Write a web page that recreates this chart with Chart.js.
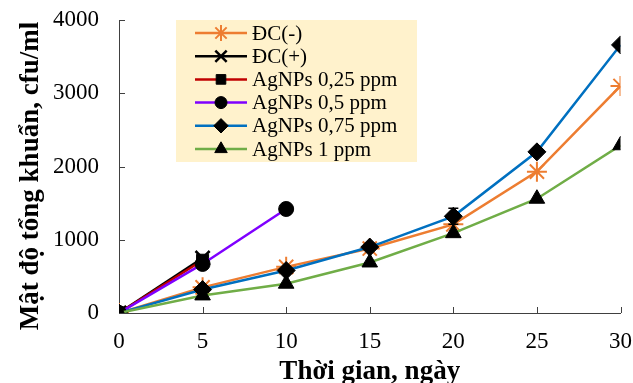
<!DOCTYPE html>
<html>
<head>
<meta charset="utf-8">
<script src="https://cdn.jsdelivr.net/npm/chart.js@4.4.0/dist/chart.umd.min.js"></script>
<style>
  html, body { margin: 0; padding: 0; background: #fff; }
</style>
</head>
<body>
<canvas id="chart" width="633" height="383"></canvas>
<script>
// days of storage
const days = [0, 5, 10, 15, 20, 25, 30];
const seriesNames = ["ĐC(-)", "ĐC(+)", "AgNPs 0,25 ppm", "AgNPs 0,5 ppm", "AgNPs 0,75 ppm", "AgNPs 1 ppm"];
// total bacteria, cfu/ml
const dcNeg = [0, 350, 630, 880, 1210, 1930, 3100];
const dcPos = [0, 750, null, null, null, null, null];
const ag025 = [0, 720, null, null, null, null, null];
const ag05 = [0, 670, 1420, null, null, null, null];
const ag075 = [0, 320, 580, 900, 1320, 2200, 3660];
const ag1 = [0, 240, 400, 690, 1090, 1560, 2290];
// error bar for 0,75 ppm
const ag075Err = [0, 0, 0, 0, 110, 0, 0];
const yTicks = [0, 1000, 2000, 3000, 4000];
const yTitle = "Mật độ tổng khuẩn, cfu/ml";

const colors = ["#ED7D31", "#000000", "#C00000", "#7F00FF", "#0070C0", "#70AD47"];
const markers = ["star", "crossRot", "rect", "circle", "rectRot", "triangle"];
const markerSize = [10, 10, 8.5, 7.5, 9, 9];
const allSeries = [dcNeg, dcPos, ag025, ag05, ag075, ag1];

const toPoints = (vals) =>
  days.map((d, i) => ({ x: d, y: vals[i] })).filter((p) => p.y !== null);

const datasets = allSeries.map((vals, i) => ({
  label: seriesNames[i],
  data: toPoints(vals),
  borderColor: colors[i],
  borderWidth: 2.5,
  pointStyle: markers[i],
  pointRadius: markerSize[i],
  pointBorderWidth: i === 0 ? 2 : (i === 1 ? 2.5 : 1),
  pointBackgroundColor: "#000",
  pointBorderColor: i === 0 ? colors[0] : "#000",
  order: 5 - i,
  tension: 0,
}));

const serif = "'Liberation Serif', 'Times New Roman', serif";

// small tick marks drawn inside the plot
const innerTicks = {
  id: "innerTicks",
  beforeDatasetsDraw(chart) {
    const { ctx, scales, chartArea } = chart;
    ctx.save();
    ctx.strokeStyle = "#404040";
    ctx.lineWidth = 1;
    ctx.beginPath();
    scales.x.ticks.forEach((t) => {
      const px = Math.round(scales.x.getPixelForValue(t.value)) + 0.5;
      ctx.moveTo(px, chartArea.bottom);
      ctx.lineTo(px, chartArea.bottom - 6);
    });
    scales.y.ticks.forEach((t) => {
      const py = Math.round(scales.y.getPixelForValue(t.value)) + 0.5;
      ctx.moveTo(chartArea.left, py);
      ctx.lineTo(chartArea.left + 6, py);
    });
    ctx.stroke();
    ctx.restore();
  },
};

const errorBars = {
  id: "errorBars",
  afterDatasetsDraw(chart) {
    const { ctx, scales } = chart;
    ctx.save();
    ctx.strokeStyle = "#000";
    ctx.lineWidth = 1.5;
    days.forEach((d, i) => {
      const e = ag075Err[i];
      if (!e) return;
      const px = scales.x.getPixelForValue(d);
      const top = scales.y.getPixelForValue(ag075[i] + e);
      const bot = scales.y.getPixelForValue(ag075[i] - e);
      ctx.beginPath();
      ctx.moveTo(px, top); ctx.lineTo(px, bot);
      ctx.moveTo(px - 5, top); ctx.lineTo(px + 5, top);
      ctx.moveTo(px - 5, bot); ctx.lineTo(px + 5, bot);
      ctx.stroke();
    });
    ctx.restore();
  },
};

// y title sits a bit below the plot centre in the original
const sideTitle = {
  id: "sideTitle",
  afterDraw(chart) {
    const { ctx } = chart;
    ctx.save();
    ctx.translate(31, 176);
    ctx.rotate(-Math.PI / 2);
    ctx.fillStyle = "#000";
    ctx.font = "bold 27px " + serif;
    ctx.textAlign = "center";
    ctx.textBaseline = "middle";
    ctx.fillText(yTitle, 0, 0);
    ctx.restore();
  },
};

// legend box inside the plot, line + marker + text
const boxLegend = {
  id: "boxLegend",
  afterDraw(chart) {
    const { ctx } = chart;
    ctx.save();
    ctx.fillStyle = "#FFF2CC";
    ctx.fillRect(176, 20, 241, 142);
    chart.data.datasets.forEach((ds, i) => {
      const y = 33 + i * 23.2;
      ctx.strokeStyle = ds.borderColor;
      ctx.lineWidth = 2.5;
      ctx.beginPath();
      ctx.moveTo(195, y);
      ctx.lineTo(247, y);
      ctx.stroke();
      ctx.fillStyle = "#000";
      ctx.strokeStyle = ds.pointBorderColor;
      ctx.lineWidth = ds.pointBorderWidth;
      Chart.helpers.drawPoint(ctx, {
        pointStyle: ds.pointStyle,
        radius: ds.pointRadius * 0.8,
        borderWidth: ds.pointBorderWidth,
        rotation: 0,
      }, 221, y);
      ctx.fillStyle = "#000";
      ctx.font = "21px " + serif;
      ctx.textBaseline = "middle";
      ctx.textAlign = "left";
      ctx.fillText(ds.label, 252, y + 1);
    });
    ctx.restore();
  },
};

new Chart(document.getElementById("chart"), {
  type: "line",
  data: { datasets },
  options: {
    responsive: false,
    animation: false,
    devicePixelRatio: 1,
    layout: { padding: 0 },
    plugins: {
      legend: { display: false },
      tooltip: { enabled: false },
    },
    scales: {
      x: {
        type: "linear",
        min: 0,
        max: 30,
        grid: { display: true, drawOnChartArea: false, drawTicks: false },
        border: { color: "#404040", width: 1 },
        ticks: {
          stepSize: 5,
          padding: 15,
          color: "#000",
          font: { family: serif, size: 23 },
        },
        title: {
          display: true,
          text: "Thời gian, ngày",
          color: "#000",
          font: { family: serif, size: 27, weight: "bold" },
          padding: { top: 0, bottom: -5 },
        },
        afterFit(scale) {
          scale.height = 70;
          scale.paddingRight = 12;
          scale.paddingLeft = 0;
        },
      },
      y: {
        min: 0,
        max: 4000,
        grid: { display: true, drawOnChartArea: false, drawTicks: false },
        border: { color: "#404040", width: 1 },
        afterBuildTicks(scale) { scale.ticks = yTicks.map((v) => ({ value: v })); },
        ticks: {
          padding: 20,
          color: "#000",
          font: { family: serif, size: 23 },
          callback: (v) => String(v),
        },
        afterFit(scale) {
          scale.width = 119;
          scale.paddingTop = 20;
          scale.paddingBottom = 0;
        },
      },
    },
  },
  plugins: [innerTicks, errorBars, sideTitle, boxLegend],
});
</script>
</body>
</html>
